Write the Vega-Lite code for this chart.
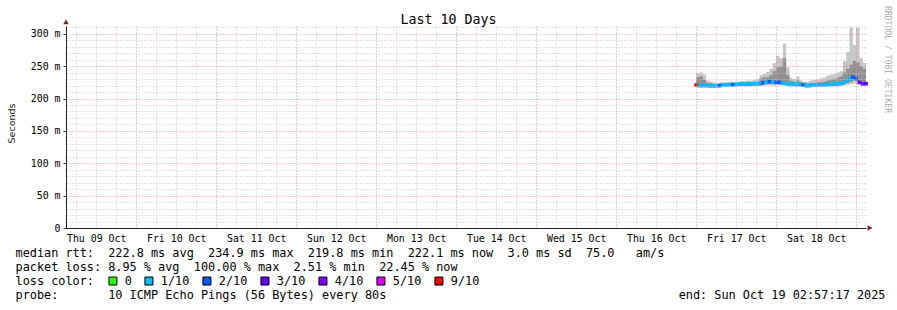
{
  "$schema": "https://vega.github.io/schema/vega-lite/v6.json",
  "width": 800,
  "height": 202,
  "autosize": {"type": "none"},
  "padding": {"left": 66, "top": 26, "right": 31, "bottom": 82},
  "background": "white",
  "config": {"view": {"stroke": null}, "font": "DejaVu Sans Mono"},
  "title": {"text": "Last 10 Days", "font": "DejaVu Sans Mono", "fontSize": 13.3, "fontWeight": "normal", "color": "black", "anchor": "middle", "dx": -17.5, "dy": 25, "offset": 4},
  "encoding": {
    "x": {"field": "t", "type": "temporal",
      "scale": {"type": "utc", "domain": [{"year": 2025, "month": 10, "date": 9, "hours": 2, "minutes": 57, "seconds": 17, "utc": true}, {"year": 2025, "month": 10, "date": 19, "hours": 2, "minutes": 57, "seconds": 17, "utc": true}]},
      "axis": {
        "values": [1759989600000, 1760011200000, 1760032800000, 1760054400000, 1760076000000, 1760097600000, 1760119200000, 1760140800000, 1760162400000, 1760184000000, 1760205600000, 1760227200000, 1760248800000, 1760270400000, 1760292000000, 1760313600000, 1760335200000, 1760356800000, 1760378400000, 1760400000000, 1760421600000, 1760443200000, 1760464800000, 1760486400000, 1760508000000, 1760529600000, 1760551200000, 1760572800000, 1760594400000, 1760616000000, 1760637600000, 1760659200000, 1760680800000, 1760702400000, 1760724000000, 1760745600000, 1760767200000, 1760788800000, 1760810400000, 1760832000000],
        "labelExpr": "utchours(datum.value) === 12 ? utcFormat(datum.value, '%a %d %b') : ''",
        "labelFont": "DejaVu Sans Mono", "labelFontSize": 9.9, "labelColor": "black",
        "labelAlign": "center", "labelBaseline": "top", "labelPadding": 5,
        "labelOverlap": false, "labelFlush": false, "labelBound": false,
        "ticks": false, "domainColor": "#222",
        "grid": true, "gridDash": [1, 2],
        "gridColor": {"condition": {"test": "utchours(datum.value) === 0", "value": "#f08c8c"}, "value": "#c4c4c4"},
        "zindex": 1,
        "title": ["median rtt:\u00a0\u00a0222.8 ms avg\u00a0\u00a0234.9 ms max\u00a0\u00a0219.8 ms min\u00a0\u00a0222.1 ms now\u00a0\u00a03.0 ms sd\u00a0\u00a075.0\u00a0\u00a0\u00a0am/s", "packet loss: 8.95 % avg\u00a0\u00a0100.00 % max\u00a0\u00a02.51 % min\u00a0\u00a022.45 % now", "loss color:", "probe:\u00a0\u00a0\u00a0\u00a0\u00a0\u00a0\u00a010 ICMP Echo Pings (56 Bytes) every 80s\u00a0\u00a0\u00a0\u00a0\u00a0\u00a0\u00a0\u00a0\u00a0\u00a0\u00a0\u00a0\u00a0\u00a0\u00a0\u00a0\u00a0\u00a0\u00a0\u00a0\u00a0\u00a0\u00a0\u00a0\u00a0\u00a0\u00a0\u00a0\u00a0\u00a0\u00a0\u00a0\u00a0\u00a0\u00a0\u00a0\u00a0\u00a0\u00a0\u00a0\u00a0end: Sun Oct 19 02:57:17 2025"],
        "titleFont": "DejaVu Sans Mono", "titleFontSize": 11.85, "titleFontWeight": "normal", "titleColor": "black",
        "titleAnchor": "start", "titleAlign": "left", "titleBaseline": "top",
        "titleX": -51, "titleY": 19, "titleLineHeight": 14, "titleLimit": 1200
      }}
  },
  "layer": [
    {
      "data": {"values": [
        {"t": "2025-10-17T00:00:00Z", "med": 221, "mn": 217, "lo": 219, "hi": 233, "mx": 239, "loss": "9/10"},
        {"t": "2025-10-17T01:00:00Z", "med": 220, "mn": 216.5, "lo": 218.5, "hi": 234, "mx": 240, "loss": "1/10"},
        {"t": "2025-10-17T02:00:00Z", "med": 220, "mn": 217, "lo": 218.5, "hi": 229, "mx": 237, "loss": "1/10"},
        {"t": "2025-10-17T03:00:00Z", "med": 220, "mn": 217, "lo": 218.5, "hi": 224, "mx": 228, "loss": "1/10"},
        {"t": "2025-10-17T04:00:00Z", "med": 219.5, "mn": 217, "lo": 218, "hi": 223, "mx": 226, "loss": "1/10"},
        {"t": "2025-10-17T05:00:00Z", "med": 219.5, "mn": 217, "lo": 218, "hi": 222, "mx": 225, "loss": "1/10"},
        {"t": "2025-10-17T06:00:00Z", "med": 219.5, "mn": 217, "lo": 218, "hi": 222, "mx": 224, "loss": "1/10"},
        {"t": "2025-10-17T07:00:00Z", "med": 220, "mn": 217.5, "lo": 218.5, "hi": 222, "mx": 225, "loss": "2/10"},
        {"t": "2025-10-17T08:00:00Z", "med": 221, "mn": 218, "lo": 219.5, "hi": 223, "mx": 225, "loss": "1/10"},
        {"t": "2025-10-17T09:00:00Z", "med": 221, "mn": 218, "lo": 219.5, "hi": 223, "mx": 225, "loss": "1/10"},
        {"t": "2025-10-17T10:00:00Z", "med": 221.5, "mn": 218.5, "lo": 220, "hi": 224, "mx": 226, "loss": "1/10"},
        {"t": "2025-10-17T11:00:00Z", "med": 221.5, "mn": 218.5, "lo": 220, "hi": 224, "mx": 226, "loss": "2/10"},
        {"t": "2025-10-17T12:00:00Z", "med": 222, "mn": 219, "lo": 220.5, "hi": 224, "mx": 226, "loss": "1/10"},
        {"t": "2025-10-17T13:00:00Z", "med": 222, "mn": 219, "lo": 220.5, "hi": 225, "mx": 227, "loss": "1/10"},
        {"t": "2025-10-17T14:00:00Z", "med": 222, "mn": 219, "lo": 220.5, "hi": 225, "mx": 227, "loss": "1/10"},
        {"t": "2025-10-17T15:00:00Z", "med": 222, "mn": 219, "lo": 220.5, "hi": 225, "mx": 228, "loss": "1/10"},
        {"t": "2025-10-17T16:00:00Z", "med": 222, "mn": 219, "lo": 220.5, "hi": 225, "mx": 228, "loss": "1/10"},
        {"t": "2025-10-17T17:00:00Z", "med": 222.5, "mn": 219.5, "lo": 221, "hi": 226, "mx": 229, "loss": "1/10"},
        {"t": "2025-10-17T18:00:00Z", "med": 222.5, "mn": 219.5, "lo": 221, "hi": 226, "mx": 230, "loss": "1/10"},
        {"t": "2025-10-17T19:00:00Z", "med": 223, "mn": 219.5, "lo": 221, "hi": 231, "mx": 236, "loss": "1/10"},
        {"t": "2025-10-17T20:00:00Z", "med": 224, "mn": 220, "lo": 222, "hi": 233, "mx": 238, "loss": "2/10"},
        {"t": "2025-10-17T21:00:00Z", "med": 225, "mn": 220, "lo": 222.5, "hi": 233, "mx": 241, "loss": "1/10"},
        {"t": "2025-10-17T22:00:00Z", "med": 226, "mn": 220.5, "lo": 223, "hi": 236, "mx": 246, "loss": "2/10"},
        {"t": "2025-10-17T23:00:00Z", "med": 225, "mn": 220, "lo": 222.5, "hi": 242, "mx": 255, "loss": "1/10"},
        {"t": "2025-10-18T00:00:00Z", "med": 225, "mn": 220, "lo": 222.5, "hi": 248, "mx": 266, "loss": "2/10"},
        {"t": "2025-10-18T01:00:00Z", "med": 225, "mn": 220, "lo": 222.5, "hi": 250, "mx": 262, "loss": "2/10"},
        {"t": "2025-10-18T02:00:00Z", "med": 224, "mn": 220, "lo": 222, "hi": 262, "mx": 285, "loss": "1/10"},
        {"t": "2025-10-18T03:00:00Z", "med": 223, "mn": 219.5, "lo": 221.5, "hi": 236, "mx": 248, "loss": "1/10"},
        {"t": "2025-10-18T04:00:00Z", "med": 222, "mn": 219, "lo": 220.5, "hi": 228, "mx": 232, "loss": "1/10"},
        {"t": "2025-10-18T05:00:00Z", "med": 222, "mn": 219, "lo": 220.5, "hi": 226, "mx": 230, "loss": "1/10"},
        {"t": "2025-10-18T06:00:00Z", "med": 222, "mn": 219, "lo": 220.5, "hi": 228, "mx": 234, "loss": "1/10"},
        {"t": "2025-10-18T07:00:00Z", "med": 221.5, "mn": 218.5, "lo": 220, "hi": 225, "mx": 228, "loss": "1/10"},
        {"t": "2025-10-18T08:00:00Z", "med": 221, "mn": 218, "lo": 219.5, "hi": 224, "mx": 226, "loss": "2/10"},
        {"t": "2025-10-18T09:00:00Z", "med": 219.8, "mn": 217, "lo": 218.5, "hi": 223, "mx": 226, "loss": "1/10"},
        {"t": "2025-10-18T10:00:00Z", "med": 220, "mn": 217, "lo": 218.5, "hi": 224, "mx": 228, "loss": "1/10"},
        {"t": "2025-10-18T11:00:00Z", "med": 221, "mn": 218, "lo": 219.5, "hi": 224, "mx": 229, "loss": "1/10"},
        {"t": "2025-10-18T12:00:00Z", "med": 221, "mn": 218, "lo": 219.5, "hi": 225, "mx": 230, "loss": "1/10"},
        {"t": "2025-10-18T13:00:00Z", "med": 221, "mn": 218, "lo": 219.5, "hi": 225, "mx": 231, "loss": "1/10"},
        {"t": "2025-10-18T14:00:00Z", "med": 221, "mn": 218, "lo": 219.5, "hi": 226, "mx": 232, "loss": "1/10"},
        {"t": "2025-10-18T15:00:00Z", "med": 221.5, "mn": 218.5, "lo": 220, "hi": 228, "mx": 235, "loss": "1/10"},
        {"t": "2025-10-18T16:00:00Z", "med": 222, "mn": 219, "lo": 220.5, "hi": 229, "mx": 237, "loss": "1/10"},
        {"t": "2025-10-18T17:00:00Z", "med": 222, "mn": 219, "lo": 220.5, "hi": 230, "mx": 238, "loss": "1/10"},
        {"t": "2025-10-18T18:00:00Z", "med": 222, "mn": 219, "lo": 220.5, "hi": 232, "mx": 240, "loss": "1/10"},
        {"t": "2025-10-18T19:00:00Z", "med": 223, "mn": 219.5, "lo": 221, "hi": 234, "mx": 242, "loss": "1/10"},
        {"t": "2025-10-18T20:00:00Z", "med": 224, "mn": 220, "lo": 222, "hi": 240, "mx": 258, "loss": "1/10"},
        {"t": "2025-10-18T21:00:00Z", "med": 227, "mn": 221, "lo": 224, "hi": 246, "mx": 272, "loss": "1/10"},
        {"t": "2025-10-18T22:00:00Z", "med": 230, "mn": 222, "lo": 226, "hi": 252, "mx": 310, "loss": "1/10"},
        {"t": "2025-10-18T23:00:00Z", "med": 233, "mn": 223, "lo": 228, "hi": 258, "mx": 283, "loss": "2/10"},
        {"t": "2025-10-19T00:00:00Z", "med": 231, "mn": 222, "lo": 226, "hi": 256, "mx": 309, "loss": "2/10"},
        {"t": "2025-10-19T01:00:00Z", "med": 225, "mn": 220, "lo": 222, "hi": 250, "mx": 262, "loss": "3/10"},
        {"t": "2025-10-19T02:00:00Z", "med": 223, "mn": 219, "lo": 221, "hi": 246, "mx": 255, "loss": "4/10"},
        {"t": "2025-10-19T02:57:17Z", "med": 223, "mn": 219, "lo": 221, "hi": 246, "mx": 255, "loss": "3/10"}
      ]},
      "layer": [
        {
          "mark": {"type": "area", "interpolate": "step-after", "color": "#c6c6c6"},
          "encoding": {
            "y": {"field": "mx", "type": "quantitative",
              "scale": {"domain": [0, 312], "nice": false, "zero": true},
              "axis": {
                "values": [0, 10, 20, 30, 40, 50, 60, 70, 80, 90, 100, 110, 120, 130, 140, 150, 160, 170, 180, 190, 200, 210, 220, 230, 240, 250, 260, 270, 280, 290, 300, 310],
                "labelExpr": "datum.value === 0 ? '0\u00a0\u00a0' : (datum.value % 50 === 0 ? datum.value + ' m' : '')",
                "labelFont": "DejaVu Sans Mono", "labelFontSize": 9.9, "labelColor": "black",
                "labelBaseline": "middle", "labelOverlap": false, "labelFlush": false, "labelBound": false,
                "labelPadding": 3, "tickSize": 3,
                "tickColor": {"condition": {"test": "datum.value % 50 === 0", "value": "#333333"}, "value": "transparent"},
                "domainColor": "#222",
                "grid": true, "gridDash": [1, 2],
                "gridColor": {"condition": {"test": "datum.value % 50 === 0", "value": "#f08c8c"}, "value": "#c4c4c4"},
                "zindex": 1,
                "title": "Seconds", "titleFont": "DejaVu Sans", "titleFontSize": 9.5, "titleFontWeight": "normal", "titleColor": "#222222",
                "titleAngle": -90, "titleAlign": "center", "titleBaseline": "middle", "titleX": -55, "titleY": 97
              }},
            "y2": {"field": "mn"}
          }
        },
        {
          "mark": {"type": "area", "interpolate": "step-after", "color": "#919191"},
          "encoding": {
            "y": {"field": "hi", "type": "quantitative",
              "scale": {"domain": [0, 312], "nice": false, "zero": true},
              "axis": {
                "values": [0, 10, 20, 30, 40, 50, 60, 70, 80, 90, 100, 110, 120, 130, 140, 150, 160, 170, 180, 190, 200, 210, 220, 230, 240, 250, 260, 270, 280, 290, 300, 310],
                "labelExpr": "datum.value === 0 ? '0\u00a0\u00a0' : (datum.value % 50 === 0 ? datum.value + ' m' : '')",
                "labelFont": "DejaVu Sans Mono", "labelFontSize": 9.9, "labelColor": "black",
                "labelBaseline": "middle", "labelOverlap": false, "labelFlush": false, "labelBound": false,
                "labelPadding": 3, "tickSize": 3,
                "tickColor": {"condition": {"test": "datum.value % 50 === 0", "value": "#333333"}, "value": "transparent"},
                "domainColor": "#222",
                "grid": true, "gridDash": [1, 2],
                "gridColor": {"condition": {"test": "datum.value % 50 === 0", "value": "#f08c8c"}, "value": "#c4c4c4"},
                "zindex": 1,
                "title": "Seconds", "titleFont": "DejaVu Sans", "titleFontSize": 9.5, "titleFontWeight": "normal", "titleColor": "#222222",
                "titleAngle": -90, "titleAlign": "center", "titleBaseline": "middle", "titleX": -55, "titleY": 97
              }},
            "y2": {"field": "lo"}
          }
        },
        {
          "mark": {"type": "point", "shape": "square", "filled": true, "size": 13, "opacity": 1},
          "encoding": {
            "y": {"field": "med", "type": "quantitative",
              "scale": {"domain": [0, 312], "nice": false, "zero": true},
              "axis": {
                "values": [0, 10, 20, 30, 40, 50, 60, 70, 80, 90, 100, 110, 120, 130, 140, 150, 160, 170, 180, 190, 200, 210, 220, 230, 240, 250, 260, 270, 280, 290, 300, 310],
                "labelExpr": "datum.value === 0 ? '0\u00a0\u00a0' : (datum.value % 50 === 0 ? datum.value + ' m' : '')",
                "labelFont": "DejaVu Sans Mono", "labelFontSize": 9.9, "labelColor": "black",
                "labelBaseline": "middle", "labelOverlap": false, "labelFlush": false, "labelBound": false,
                "labelPadding": 3, "tickSize": 3,
                "tickColor": {"condition": {"test": "datum.value % 50 === 0", "value": "#333333"}, "value": "transparent"},
                "domainColor": "#222",
                "grid": true, "gridDash": [1, 2],
                "gridColor": {"condition": {"test": "datum.value % 50 === 0", "value": "#f08c8c"}, "value": "#c4c4c4"},
                "zindex": 1,
                "title": "Seconds", "titleFont": "DejaVu Sans", "titleFontSize": 9.5, "titleFontWeight": "normal", "titleColor": "#222222",
                "titleAngle": -90, "titleAlign": "center", "titleBaseline": "middle", "titleX": -55, "titleY": 97
              }},
            "color": {"field": "loss", "type": "nominal",
              "scale": {"domain": ["0", "1/10", "2/10", "3/10", "4/10", "5/10", "9/10"], "range": ["#26ff00", "#00b8ff", "#0059ff", "#5e00ff", "#7e00ff", "#dd00ff", "#ff0000"]},
              "legend": {
                "orient": "none", "legendX": 41, "legendY": 249, "direction": "horizontal",
                "title": null,
                "labelFont": "DejaVu Sans Mono", "labelFontSize": 11.85, "labelColor": "black", "labelOffset": 6,
                "symbolType": "square", "symbolSize": 64, "columnPadding": 10, "symbolOpacity": 1,
                "encode": {"symbols": {"update": {"stroke": {"value": "black"}, "strokeWidth": {"value": 1}, "size": {"value": 64}, "opacity": {"value": 1}}}}
              }}
          }
        }
      ]
    },
    {
      "data": {"values": [
        {"t": "2025-10-09T02:57:17Z", "v": 318.2, "dir": "up"},
        {"t": "2025-10-19T04:09:00Z", "v": 0, "dir": "right"}
      ]},
      "mark": {"type": "point", "filled": true, "size": 30, "color": "#8b1a1a", "opacity": 1},
      "encoding": {
        "y": {"field": "v", "type": "quantitative",
          "scale": {"domain": [0, 312], "nice": false, "zero": true},
          "axis": {"orient": "right", "domain": false, "ticks": false, "labels": false, "grid": false,
            "title": "RRDTOOL / TOBI OETIKER", "titleFont": "DejaVu Sans Mono", "titleFontSize": 8.1, "titleFontWeight": "normal", "titleColor": "#b0b0b0",
            "titleAngle": 90, "titleAlign": "center", "titleBaseline": "middle", "titleX": 20, "titleY": 33}},
        "shape": {"field": "dir", "type": "nominal", "scale": {"domain": ["up", "right"], "range": ["triangle-up", "triangle-right"]}, "legend": null}
      }
    }
  ],
  "resolve": {"scale": {"y": "independent"}}
}
